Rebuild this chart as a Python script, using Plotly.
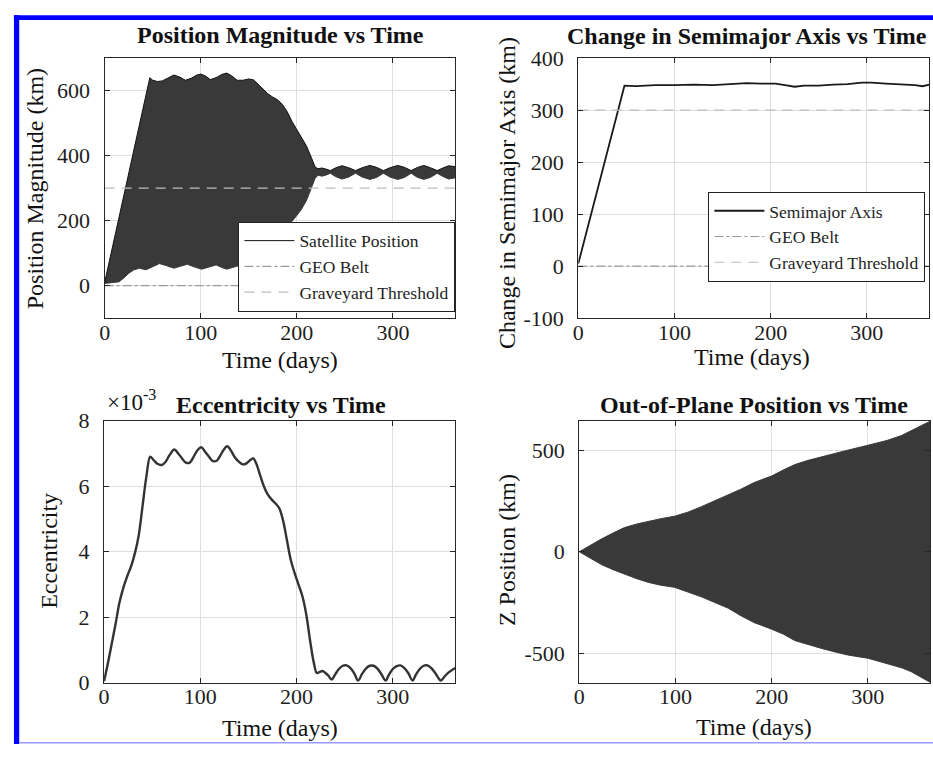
import plotly.graph_objects as go

# ---------------- data ----------------
# Panel 1: position magnitude envelope (km) - dense daily oscillation shown as band
pos_up_t = [0, 10, 20, 30, 40, 47, 50, 55, 60, 66, 72, 78, 84, 90, 96, 100, 105, 110, 116, 122,
            127, 132, 138, 144, 150, 155, 160, 165, 170, 175, 180, 185, 190, 195, 200, 205, 210,
            215, 219, 222, 226, 230, 235, 240, 247, 254, 261, 268, 276, 283, 290, 297, 305, 312,
            319, 325, 332, 339, 346, 352, 358, 365]
pos_up = [10, 143, 275, 408, 540, 640, 632, 628, 630, 640, 648, 642, 632, 638, 648, 651, 645, 634,
          640, 650, 654, 646, 632, 632, 636, 633, 618, 602, 590, 580, 572, 557, 535, 505, 480, 455,
          430, 395, 365, 360, 362, 359, 354, 362, 369, 363, 354, 363, 370, 364, 354, 363, 370, 364,
          354, 363, 370, 363, 354, 362, 369, 366]
pos_lo_t = [0, 5, 10, 15, 20, 25, 30, 36, 43, 50, 57, 64, 72, 79, 86, 93, 101, 108, 116, 122, 127,
            133, 140, 147, 155, 162, 168, 174, 181, 186, 190, 195, 200, 205, 210, 215, 219, 222, 226,
            230, 235, 240, 247, 254, 261, 268, 276, 283, 290, 297, 305, 312, 319, 325, 332, 339, 346,
            352, 358, 365]
pos_lo = [7, 8, 9, 12, 24, 38, 48, 54, 49, 58, 68, 62, 54, 60, 66, 58, 51, 57, 64, 56, 51, 56, 62,
          60, 62, 75, 95, 112, 128, 148, 170, 198, 216, 236, 262, 302, 330, 340, 337, 340, 346, 336,
          328, 334, 346, 334, 327, 333, 346, 334, 327, 333, 346, 334, 327, 333, 346, 336, 328, 332]

# reference lines
ref_t = [0, 365]
geo_belt = [0, 0]
graveyard = [300, 300]

# Panel 2: change in semimajor axis (km)
sma_t = [0, 48, 60, 80, 100, 120, 140, 160, 175, 190, 205, 215, 225, 235, 250, 265, 280, 295,
         305, 320, 335, 350, 358, 365]
sma_v = [5, 347, 346, 348, 348, 349, 348, 351, 352, 351, 351, 348, 345, 347, 347, 349, 350, 353,
         353, 351, 350, 348, 346, 349]

# Panel 3: eccentricity (x 1e-3)
ecc_t = [0, 4, 8, 12, 16, 20, 24, 28, 32, 36, 40, 44, 48, 52, 56, 60, 64, 68, 73, 77, 81, 85, 89,
         93, 97, 101, 105, 109, 113, 117, 121, 124, 128, 132, 136, 140, 144, 148, 152, 155, 158,
         162, 166, 170, 174, 178, 182, 186, 190, 194, 198, 202, 206, 210, 214, 218, 221, 224, 227,
         230, 233, 236.5, 240, 244, 248, 252, 256, 260, 264, 268, 272, 276, 280, 284, 288, 292.5,
         296, 300, 304, 308, 312, 316, 320.5, 324, 328, 332, 336, 340, 344, 348, 350, 354, 358,
         362, 365]
ecc_e3 = [0.05, 0.6, 1.2, 1.8, 2.45, 2.9, 3.25, 3.55, 3.95, 4.5, 5.4, 6.3, 6.9, 6.78, 6.68, 6.65,
          6.75, 6.95, 7.12, 7.0, 6.85, 6.72, 6.72, 6.9, 7.1, 7.19, 7.05, 6.9, 6.77, 6.78, 6.95, 7.1,
          7.22, 7.08, 6.88, 6.75, 6.67, 6.7, 6.8, 6.85, 6.7, 6.35, 6.0, 5.75, 5.6, 5.48, 5.33, 4.95,
          4.35, 3.75, 3.35, 3.0, 2.65, 2.1, 1.3, 0.6, 0.3, 0.33, 0.36, 0.3, 0.22, 0.1, 0.25, 0.42,
          0.52, 0.53, 0.45, 0.28, 0.07, 0.27, 0.43, 0.52, 0.52, 0.43, 0.27, 0.07, 0.25, 0.42, 0.51,
          0.53, 0.45, 0.3, 0.07, 0.25, 0.42, 0.52, 0.53, 0.45, 0.3, 0.12, 0.07, 0.2, 0.32, 0.4, 0.45]

# Panel 4: out-of-plane (Z) position envelope (km)
z_t = [0, 10, 23, 35, 47, 60, 72, 85, 99, 113, 127, 141, 155, 168, 182, 200, 212, 224, 238, 252,
       265, 279, 300, 320, 335, 345, 355, 365]
z_up = [0, 28, 63, 92, 119, 137, 151, 163, 175, 195, 222, 250, 278, 308, 341, 373, 402, 429, 450,
        468, 485, 500, 524, 548, 572, 595, 618, 643]
z_lo = [0, -28, -63, -88, -111, -133, -151, -165, -175, -197, -222, -250, -278, -315, -349, -381,
        -405, -437, -458, -476, -492, -508, -524, -550, -571, -590, -615, -643]

x_ticks = [0, 100, 200, 300]
y1_ticks = [0, 200, 400, 600]
y2_ticks = [-100, 0, 100, 200, 300, 400]
y3_ticks = [0, 2, 4, 6, 8]
y4_ticks = [-500, 0, 500]

# ---------------- figure ----------------
W, H = 933, 757
FONT = "Liberation Serif, Times New Roman, serif"
DARK = "#393939"
GEO_C = "#9a9a9a"
GRAVE_C = "#bdbdbd"


def px(x):
    return x / W


def py(y):
    return 1 - y / H


fig = go.Figure()

# Panel 1
fig.add_trace(go.Scatter(x=pos_up_t, y=pos_up, mode="lines", name="Satellite Position",
                         line=dict(color="#111111", width=1), xaxis="x", yaxis="y", legend="legend"))
fig.add_trace(go.Scatter(x=pos_lo_t, y=pos_lo, mode="lines", fill="tonexty", fillcolor=DARK,
                         line=dict(color=DARK, width=1), showlegend=False, xaxis="x", yaxis="y"))
fig.add_trace(go.Scatter(x=ref_t, y=geo_belt, mode="lines", name="GEO Belt",
                         line=dict(color=GEO_C, width=1.2, dash="dashdot"), xaxis="x", yaxis="y",
                         legend="legend"))
fig.add_trace(go.Scatter(x=ref_t, y=graveyard, mode="lines", name="Graveyard Threshold",
                         line=dict(color=GRAVE_C, width=1.2, dash="10px,7px"), xaxis="x", yaxis="y",
                         legend="legend"))

# Panel 2
fig.add_trace(go.Scatter(x=sma_t, y=sma_v, mode="lines", name="Semimajor Axis",
                         line=dict(color="#1a1a1a", width=1.8), xaxis="x2", yaxis="y2", legend="legend2"))
fig.add_trace(go.Scatter(x=ref_t, y=geo_belt, mode="lines", name="GEO Belt",
                         line=dict(color=GEO_C, width=1.2, dash="dashdot"), xaxis="x2", yaxis="y2",
                         legend="legend2"))
fig.add_trace(go.Scatter(x=ref_t, y=graveyard, mode="lines", name="Graveyard Threshold",
                         line=dict(color=GRAVE_C, width=1.2, dash="10px,7px"), xaxis="x2", yaxis="y2",
                         legend="legend2"))

# Panel 3
fig.add_trace(go.Scatter(x=ecc_t, y=ecc_e3, mode="lines", line=dict(color="#333333", width=2.4),
                         showlegend=False, xaxis="x3", yaxis="y3", line_shape="spline"))

# Panel 4
fig.add_trace(go.Scatter(x=z_t, y=z_up, mode="lines", line=dict(color=DARK, width=1),
                         showlegend=False, xaxis="x4", yaxis="y4"))
fig.add_trace(go.Scatter(x=z_t, y=z_lo, mode="lines", fill="tonexty", fillcolor=DARK,
                         line=dict(color=DARK, width=1), showlegend=False, xaxis="x4", yaxis="y4"))

axis_common = dict(showline=True, linecolor="#262626", linewidth=1.3, mirror="ticks",
                   ticks="inside", ticklen=5, tickwidth=1, tickcolor="#262626",
                   showgrid=True, gridcolor="#dedede", gridwidth=1, zeroline=False,
                   tickfont=dict(family=FONT, size=22, color="#1e1e1e"), fixedrange=True)


def xa(domain, anchor):
    d = dict(axis_common)
    d.update(domain=domain, anchor=anchor, range=[0, 365], tickvals=x_ticks,
             ticktext=[str(v) for v in x_ticks], ticklabelstandoff=-6)
    return d


def ya(domain, anchor, rng, ticks):
    d = dict(axis_common)
    d.update(domain=domain, anchor=anchor, range=rng, tickvals=ticks,
             ticktext=[str(v) for v in ticks], ticklabelstandoff=9)
    return d


top_dom = [py(316.7), py(47.7)]
bot_dom = [py(693.7), py(422.7)]

leg_common = dict(bgcolor="white", bordercolor="#222222", borderwidth=1,
                  font=dict(family=FONT, size=17.5, color="#1e1e1e"), itemwidth=50,
                  tracegroupgap=0, traceorder="normal")

fig.update_layout(
    width=W, height=H, autosize=False,
    margin=dict(l=0, r=0, t=0, b=0, pad=0),
    paper_bgcolor="white", plot_bgcolor="white",
    font=dict(family=FONT, color="#111111"),
    xaxis=xa([px(99.3), px(452.3)], "y"),
    yaxis=ya(top_dom, "x", [-100, 700], y1_ticks),
    xaxis2=xa([px(576), px(929.3)], "y2"),
    yaxis2=ya(top_dom, "x2", [-100, 400], y2_ticks),
    xaxis3=xa([px(98.7), px(452.3)], "y3"),
    yaxis3=ya(bot_dom, "x3", [0, 8], y3_ticks),
    xaxis4=xa([px(577), px(930.3)], "y4"),
    yaxis4=ya(bot_dom, "x4", [-645, 645], y4_ticks),
    legend=dict(x=px(452.3), xanchor="right", y=py(310), yanchor="bottom", **leg_common),
    legend2=dict(x=px(925.3), xanchor="right", y=py(186), yanchor="top", **leg_common),
    showlegend=True,
)

# titles and axis labels
ann = []


def add_text(text, x, y, size, bold=False, angle=0):
    ann.append(dict(text=f"<b>{text}</b>" if bold else text, x=px(x), y=py(y), xref="paper",
                    yref="paper", showarrow=False, xanchor="center", yanchor="middle",
                    textangle=angle, font=dict(family=FONT, size=size, color="#111111")))


add_text("Position Magnitude vs Time", 276, 24, 24, bold=True)
add_text("Change in Semimajor Axis vs Time", 745.5, 25, 24, bold=True)
add_text("Eccentricity vs Time", 276.5, 406, 24, bold=True)
add_text("Out-of-Plane Position vs Time", 752.5, 406.5, 24, bold=True)

add_text("Time (days)", 276, 360, 24)
add_text("Time (days)", 751, 357, 24)
add_text("Time (days)", 276, 740, 24)
add_text("Time (days)", 752.7, 739, 24)

add_text("Position Magnitude (km)", 30, 182.5, 24, angle=-90)
add_text("Change in Semimajor Axis (km)", 505, 187.5, 24, angle=-90)
add_text("Eccentricity", 43, 557.5, 24, angle=-90)
add_text("Z Position (km)", 505, 556.7, 24, angle=-90)

add_text("×10<sup>-3</sup>", 126, 402, 23)

fig.update_layout(annotations=ann)

# blue page frame
fig.add_shape(type="rect", xref="paper", yref="paper", x0=px(8), x1=px(13.3), y0=py(757), y1=py(3.3),
              fillcolor="#0000ff", line=dict(width=0), layer="above")
fig.add_shape(type="rect", xref="paper", yref="paper", x0=px(8), x1=px(933), y0=py(8.3), y1=py(3.3),
              fillcolor="#0000ff", line=dict(width=0), layer="above")
fig.add_shape(type="rect", xref="paper", yref="paper", x0=px(13.3), x1=px(933), y0=py(756.5), y1=py(755),
              fillcolor="#9a9aff", line=dict(width=0), layer="above")

fig.write_html(
    "out.html",
    post_script=(
        "document.documentElement.style.margin='0';"
        "document.body.style.margin='0';document.body.style.padding='0';"
        "document.body.style.overflow='hidden';"
        "var gd=document.getElementById('{plot_id}');"
        "gd.style.position='absolute';gd.style.left='0px';gd.style.top='0px';"
    ),
)
